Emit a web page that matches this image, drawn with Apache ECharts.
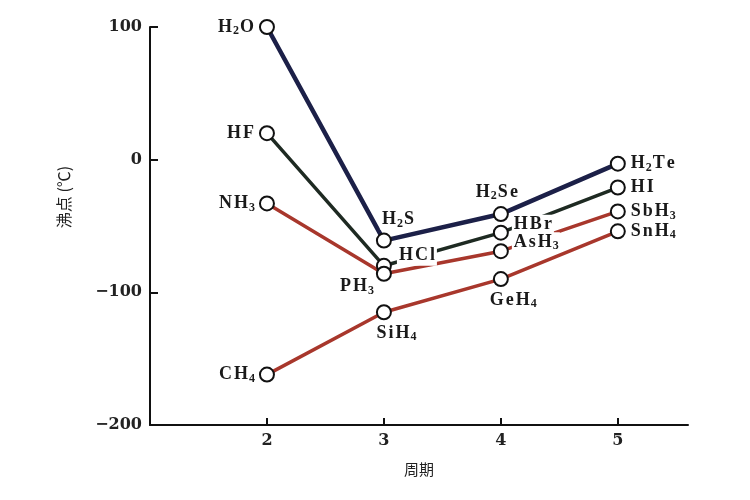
<!DOCTYPE html>
<html>
<head>
<meta charset="utf-8">
<script src="https://cdn.jsdelivr.net/npm/echarts@6/dist/echarts.min.js"></script>
<style>
  html, body { margin: 0; padding: 0; background: #fff; }
  #main { width: 750px; height: 500px; }
</style>
</head>
<body>
<div id="main"></div>
<script>
// 氢化物沸点 vs 周期
var periods = [2, 3, 4, 5];
var groupVI = [100, -61, -41, -3];
var groupVII = [20, -80, -55, -21];
var groupV = [-33, -86, -69, -39];
var groupIV = [-162, -115, -90, -54];
var namesVI = ['H2O', 'H2S', 'H2Se', 'H2Te'];
var namesVII = ['HF', 'HCl', 'HBr', 'HI'];
var namesV = ['NH3', 'PH3', 'AsH3', 'SbH3'];
var namesIV = ['CH4', 'SiH4', 'GeH4', 'SnH4'];
var yTicks = [-200, -100, 0, 100];

var myChart = echarts.init(document.getElementById('main'));

// 每个点标签的位置 [position, offset]
var place = {
    VI: [['left', [0, 0]], ['top', [14, 0]], ['top', [-4, -1]], ['right', [0, 0]]],
    VII: [['left', [0, 0]], ['right', [2, -10]], ['right', [0, -8]], ['right', [0, 0]]],
    V: [['left', [0, 0]], ['left', [2, 13]], ['right', [0, -9]], ['right', [0, 0]]],
    IV: [['left', [0, 0]], ['bottom', [12, 0]], ['bottom', [12, 0]], ['right', [0, 0]]]
};

// 化学式里的数字作下标
function formula(name) {
    return name.split('').map(function (c) {
        return /\d/.test(c) ? '{s|' + c + '}' : '{n|' + c + '}';
    }).join('');
}

function makeSeries(vals, names, pl, color, width) {
    return {
        type: 'line',
        symbol: 'circle',
        symbolSize: 14,
        itemStyle: { color: '#fff', borderColor: '#111', borderWidth: 2 },
        lineStyle: { color: color, width: width },
        data: vals.map(function (v, i) {
            return {
                value: [periods[i], v],
                label: { position: pl[i][0], offset: pl[i][1], formatter: formula(names[i]) }
            };
        }),
        label: {
            show: true,
            distance: 3,
            color: '#111',
            backgroundColor: '#fff',
            padding: [0, 1],
            rich: {
                n: { fontFamily: 'Liberation Serif', fontWeight: 'bold', fontSize: 18, color: '#1a1a1a', lineHeight: 20, padding: [0, 1] },
                s: { fontFamily: 'Liberation Serif', fontWeight: 'bold', fontSize: 12, color: '#1a1a1a', lineHeight: 13, verticalAlign: 'bottom' }
            }
        },
        emphasis: { disabled: true },
        animation: false
    };
}

option = {
    backgroundColor: '#fff',
    grid: { left: 150, right: 62, top: 27, bottom: 75 },
    xAxis: {
        type: 'value',
        min: 1,
        max: 5.6,
        interval: 1,
        name: '周期',
        nameLocation: 'middle',
        nameGap: 37,
        nameTextStyle: { fontFamily: 'Noto Sans CJK SC', fontSize: 15, color: '#222' },
        axisLine: { onZero: false, lineStyle: { color: '#111', width: 2 } },
        axisTick: { inside: true, length: 7, customValues: periods, lineStyle: { color: '#111', width: 2 } },
        axisLabel: {
            margin: 8,
            customValues: periods,
            fontFamily: 'DejaVu Serif', fontSize: 16, fontWeight: 'bold', color: '#222'
        },
        splitLine: { show: false }
    },
    yAxis: {
        type: 'value',
        min: yTicks[0],
        max: yTicks[yTicks.length - 1],
        interval: 100,
        name: '沸点 (℃)',
        nameLocation: 'middle',
        nameRotate: 90,
        nameGap: 78,
        nameTextStyle: { fontFamily: 'Noto Sans CJK SC', fontSize: 16, color: '#222', padding: [0, 0, 0, 58] },
        axisLine: { show: true, onZero: false, lineStyle: { color: '#111', width: 2 } },
        axisTick: { show: true, inside: true, length: 8, lineStyle: { color: '#111', width: 2 } },
        axisLabel: {
            margin: 8,
            fontFamily: 'DejaVu Serif', fontSize: 16, fontWeight: 'bold', color: '#222',
            formatter: function (v) { return v < 0 ? '\u2212' + Math.abs(v) : String(v); }
        },
        splitLine: { show: false }
    },
    series: [
        makeSeries(groupVI, namesVI, place.VI, '#1c2048', 4.5),
        makeSeries(groupVII, namesVII, place.VII, '#1e2a22', 3.5),
        makeSeries(groupV, namesV, place.V, '#a8372c', 3.5),
        makeSeries(groupIV, namesIV, place.IV, '#a8372c', 3.5)
    ]
};

myChart.setOption(option);
</script>
</body>
</html>
